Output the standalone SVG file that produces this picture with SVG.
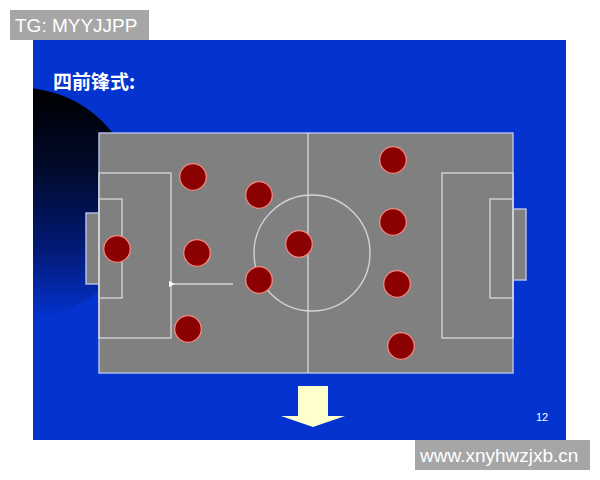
<svg xmlns="http://www.w3.org/2000/svg" width="600" height="480" viewBox="0 0 600 480">
<defs>
<linearGradient id="dark" x1="0" y1="0" x2="0" y2="1">
<stop offset="0" stop-color="#000000"/>
<stop offset="0.35" stop-color="#000a2c"/>
<stop offset="0.7" stop-color="#021a78"/>
<stop offset="1" stop-color="#0433cf"/>
</linearGradient>
<clipPath id="slideClip"><rect x="33" y="40" width="533" height="400"/></clipPath>
<marker id="ah" markerWidth="6" markerHeight="6" refX="1" refY="3" orient="auto" markerUnits="userSpaceOnUse">
<path d="M6,0 L0,3 L6,6 z" fill="#ffffff"/>
</marker>
<style>
.line{fill:none;stroke:#d2d2d8;stroke-width:1.4}
.player{fill:#8b0000;stroke:#f08a80;stroke-width:1.3}
.wm{fill:#a6a6a6}
.wmt{font-family:"Liberation Sans",Arial,sans-serif;font-size:19px;fill:#ffffff}
</style>
</defs>
<rect width="600" height="480" fill="#ffffff"/>
<rect x="33" y="40" width="533" height="400" fill="#0433cf"/>
<g clip-path="url(#slideClip)">
<circle cx="21" cy="204" r="116" fill="url(#dark)"/>
</g>
<text x="53" y="89" font-family="'Noto Sans CJK SC',sans-serif" font-size="19" font-weight="bold" fill="#ffffff">四前锋式:</text>
<g id="field">
<rect x="86" y="213" width="13" height="71" fill="#808080" stroke="#b8c4ec" stroke-width="1.4"/>
<rect x="513" y="209" width="13" height="71" fill="#808080" stroke="#b8c4ec" stroke-width="1.4"/>
<rect x="99" y="133" width="414" height="240" fill="#808080" stroke="#b8c4ec" stroke-width="1.4"/>
<line class="line" x1="308" y1="133" x2="308" y2="373"/>
<circle class="line" cx="312" cy="253" r="58"/>
<rect class="line" x="99" y="173" width="72" height="165"/>
<rect class="line" x="99" y="199" width="23" height="99"/>
<rect class="line" x="442" y="173" width="71" height="165"/>
<rect class="line" x="490" y="199" width="23" height="99"/>
</g>
<g id="connectors">
<line x1="233" y1="284" x2="174" y2="284" stroke="#ffffff" stroke-width="1.2" marker-end="url(#ah)"/>
</g>
<g id="p1"><circle class="player" cx="193" cy="177" r="13.3"/></g>
<g id="p2"><circle class="player" cx="259" cy="195" r="13.3"/></g>
<g id="p3"><circle class="player" cx="117" cy="249" r="13.3"/></g>
<g id="p4"><circle class="player" cx="197" cy="253" r="13.3"/></g>
<g id="p5"><circle class="player" cx="299" cy="244" r="13.3"/></g>
<g id="p6"><circle class="player" cx="259" cy="280" r="13.3"/></g>
<g id="p7"><circle class="player" cx="188" cy="329" r="13.3"/></g>
<g id="p8"><circle class="player" cx="393" cy="160" r="13.3"/></g>
<g id="p9"><circle class="player" cx="393" cy="222" r="13.3"/></g>
<g id="p10"><circle class="player" cx="397" cy="284" r="13.3"/></g>
<g id="p11"><circle class="player" cx="401" cy="346" r="13.3"/></g>
<g id="bigArrow"><polygon points="298,386 328,386 328,416 345,416 313,427 281,416 298,416" fill="#ffffcc"/></g>
<text x="536" y="421" font-family="'Liberation Sans',Arial,sans-serif" font-size="11" fill="#ffffff">12</text>
<g id="tag"><rect class="wm" x="10" y="10" width="139" height="30"/><text class="wmt" x="15" y="32">TG: MYYJJPP</text></g>
<g id="site"><rect class="wm" x="415" y="440" width="175" height="30"/><text class="wmt" x="420" y="462">www.xnyhwzjxb.cn</text></g>
</svg>
